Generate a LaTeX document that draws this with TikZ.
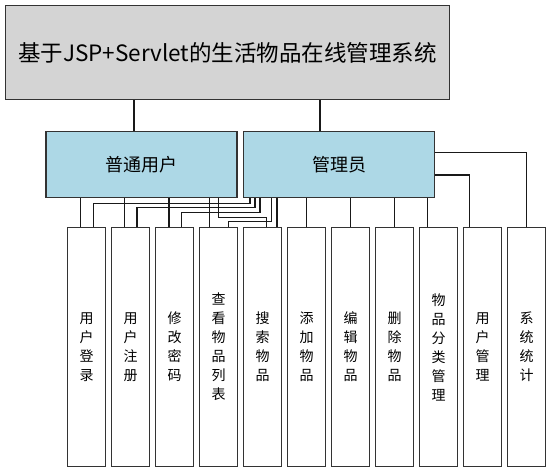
\documentclass[tikz,border=0pt]{standalone}
\usepackage{fontspec}
\setmainfont{Noto Sans CJK SC}
\usetikzlibrary{positioning}
\definecolor{rollblau}{RGB}{173,216,230}

\begin{document}
\begin{tikzpicture}[
    x=1pt, y=1pt,
    node distance = 4.5pt and 4.5pt,
    line width=1.5pt,
    titel/.style = {rectangle, draw=black!80, fill=black!17, minimum width=444pt, minimum height=94pt, font=\fontsize{22.5pt}{26pt}\selectfont},
    rolle/.style = {rectangle, draw=black!80, fill=rollblau, minimum width=191pt, minimum height=66pt, font=\fontsize{18pt}{22pt}\selectfont},
    modul/.style = {rectangle, draw=black!80, fill=white, minimum width=38pt, minimum height=239pt, align=center, inner sep=0pt, font=\fontsize{14pt}{19pt}\selectfont},
    pil/.style = {black!90, line width=1.4pt}
    ]
  \useasboundingbox (0,0) rectangle (552,-473);

  \node[titel] (sys) at (227.5,-52.5) {基于JSP+Servlet的生活物品在线管理系统} ;
  \node[rolle] (user) at (141.5,-164.5) {普通用户} ;
  \node[rolle] (admin) at (339,-164.5) {管理员} ;

  \node[modul] (l1) at (86.5,-347) {用\\户\\登\\录} ;
  \node[modul] (l2) [right=of l1] {用\\户\\注\\册} ;
  \node[modul] (l3) [right=of l2] {修\\改\\密\\码} ;
  \node[modul] (l4) [right=of l3] {查\\看\\物\\品\\列\\表} ;
  \node[modul] (l5) [right=of l4] {搜\\索\\物\\品} ;
  \node[modul] (l6) [right=of l5] {添\\加\\物\\品} ;
  \node[modul] (l7) [right=of l6] {编\\辑\\物\\品} ;
  \node[modul] (l8) [right=of l7] {删\\除\\物\\品} ;
  \node[modul] (l9) [right=of l8] {物\\品\\分\\类\\管\\理} ;
  \node[modul] (l10) [right=of l9] {用\\户\\管\\理} ;
  \node[modul] (l11) [right=of l10] {系\\统\\统\\计} ;

  % oben
  \draw[pil]
  ([xshift=-7.5pt]user.north |- sys.south) -- ([xshift=-7.5pt]user.north)
  ([xshift=-19pt]admin.north |- sys.south) -- ([xshift=-19pt]admin.north) ;

  %普通用户
  \draw[pil]
  ([xshift=-6pt]l1.north |- user.south) -- ([xshift=-6pt]l1.north)
  ([xshift=-6pt]l2.north |- user.south) -- ([xshift=-6pt]l2.north)
  ([xshift=-5.5pt]l3.north |- user.south) -- ([xshift=-5.5pt]l3.north)
  ([xshift=-9pt]l4.north |- user.south) -- ([xshift=-9pt]l4.north)
  ([xshift=77pt]user.south) -- ++(0,-19.2) -| ([xshift=4pt]l5.north) ;

  % 管理员
  \draw[pil]
  ([xshift=-89pt]admin.south) -- ++(0,-5.2) -| ([xshift=7pt]l1.north)
  ([xshift=-84pt]admin.south) -- ++(0,-9.2) -| ([xshift=6.5pt]l2.north)
  ([xshift=-79pt]admin.south) -- ++(0,-14.2) -| ([xshift=7pt]l3.north)
  ([xshift=-67.3pt]admin.south) -- ++(0,-23.5) -| ([xshift=10pt]l4.north)
  ([xshift=14.5pt]l5.north |- admin.south) -- ([xshift=14.5pt]l5.north)
  (l6.north |- admin.south) -- (l6.north)
  (l7.north |- admin.south) -- (l7.north)
  (l8.north |- admin.south) -- (l8.north)
  ([xshift=-11pt]l9.north |- admin.south) -- ([xshift=-11pt]l9.north)
  ([yshift=-10.5pt]admin.east) -| ([xshift=-13pt]l10.north)
  ([yshift=12.2pt]admin.east) -| (l11.north) ;
\end{tikzpicture}
\end{document}
